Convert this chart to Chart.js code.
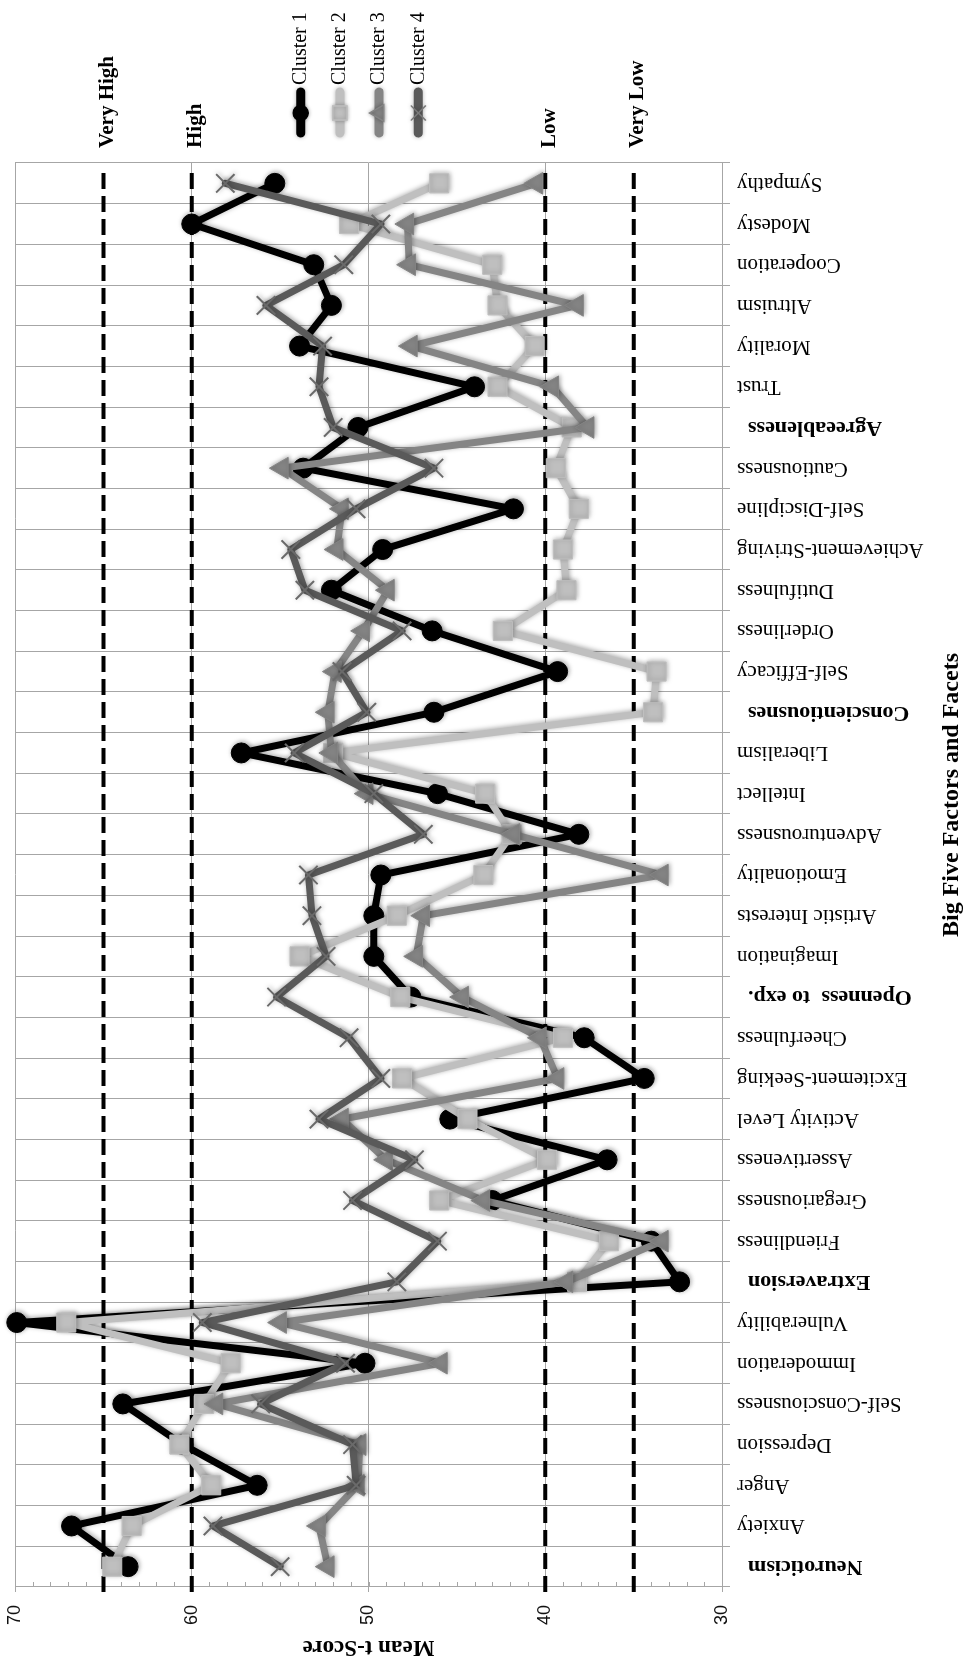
<!DOCTYPE html>
<html>
<head>
<meta charset="utf-8">
<script src="https://cdn.jsdelivr.net/npm/chart.js@4.4.1/dist/chart.umd.min.js"></script>
<style>
html,body{margin:0;padding:0;background:#fff;overflow:hidden;width:967px;height:1663px;}
#wrap{position:absolute;left:0;top:0;width:1663px;height:967px;transform-origin:0 0;transform:translate(0,1663px) rotate(-90deg);background:#fff;}
canvas{display:block;}
</style>
</head>
<body>
<div id="wrap"><canvas id="c" width="1663" height="967"></canvas></div>
<script>
// ---- data ----
const categories = ['Neuroticism','Anxiety','Anger','Depression','Self-Consciousness','Immoderation','Vulnerability',
  'Extraversion','Friendliness','Gregariousness','Assertiveness','Activity Level','Excitement-Seeking','Cheerfulness',
  'Openness  to exp.','Imagination','Artistic Interests','Emotionality','Adventurousness','Intellect','Liberalism',
  'Conscientiousnes','Self-Efficacy','Orderliness','Dutifulness','Achievement-Striving','Self-Discipline','Cautiousness',
  'Agreeableness','Trust','Morality','Altruism','Cooperation','Modesty','Sympathy'];
const factorNames = ['Neuroticism','Extraversion','Openness  to exp.','Conscientiousnes','Agreeableness'];
const seriesNames = ['Cluster 1','Cluster 2','Cluster 3','Cluster 4'];
const cluster1 = [63.6,66.8,56.3,60.5,63.9,50.2,69.9, 32.4,34.0,43.0,36.5,45.4,34.4,37.8, 47.6,49.7,49.7,49.3,38.1,46.1,57.2,
  46.3,39.3,46.4,52.1,49.2,41.8,53.7, 50.6,44.0,53.9,52.1,53.1,60.0,55.3];
const cluster2 = [64.5,63.4,58.9,60.7,59.3,57.8,67.1, 38.2,36.4,46.0,39.9,44.4,48.1,39.0, 48.2,53.9,48.4,43.5,41.9,43.4,52.0,
  33.9,33.7,42.4,38.8,39.0,38.1,39.4, 38.5,42.7,40.6,42.7,43.0,51.1,46.0];
const cluster3 = [52.3,52.8,50.6,50.5,58.6,45.9,55.0, 38.8,33.4,43.5,49.0,51.5,39.3,40.3, 44.7,47.3,46.9,33.4,41.8,50.1,52.1,
  52.3,51.9,50.3,48.9,51.8,51.5,54.9, 37.6,39.6,47.6,38.2,47.7,47.8,40.5];
const cluster4 = [55.0,58.8,50.7,50.9,56.1,51.3,59.4, 48.4,46.1,50.9,47.4,52.8,49.3,51.1, 55.2,52.4,53.2,53.4,46.9,49.7,54.2,
  50.1,51.5,48.1,53.6,54.4,50.7,46.3, 52.0,52.8,52.6,55.8,51.4,49.3,58.1];
const valueMin = 30, valueMax = 70, valueStep = 10, minorStep = 1;
const levelValues = [65, 60, 40, 35];
const levelLabels = ['Very High', 'High', 'Low', 'Very Low'];
const xTitle = 'Big Five Factors and Facets';
const yTitle = 'Mean t-Score';

// ---- styles ----
const serif = 'Liberation Serif';
const colors = ['#000000', '#bfbfbf', '#858585', '#5a5a5a'];
const pStyles = ['circle', 'rect', 'triangle', 'crossRot'];
const pRadii = [10, 13.5, 12.5, 13];
const legendRadii = [7.5, 10, 9.5, 10];
const gridColor = '#a6a6a6';
const isFactor = i => factorNames.includes(categories[i]);

const allSeries = [cluster1, cluster2, cluster3, cluster4];

const decor = {
  id: 'decor',
  beforeDatasetsDraw(chart) {
    const {ctx, chartArea: a, scales: {y}} = chart;
    ctx.save();
    ctx.strokeStyle = gridColor; ctx.lineWidth = 1;
    for (let v = valueMin; v <= valueMax; v += minorStep) {
      const py = Math.round(y.getPixelForValue(v)) + 0.5;
      ctx.beginPath(); ctx.moveTo(a.left, py); ctx.lineTo(a.left + 5, py); ctx.stroke();
    }
    ctx.strokeStyle = '#000'; ctx.lineWidth = 4; ctx.setLineDash([16, 7]);
    levelValues.forEach(v => {
      const py = y.getPixelForValue(v);
      ctx.beginPath(); ctx.moveTo(a.left - 5, py); ctx.lineTo(a.right - 5, py); ctx.stroke();
    });
    ctx.restore();
  },
  beforeDatasetDraw(chart) {
    const ctx = chart.ctx;
    ctx.save();
    ctx.shadowColor = 'rgba(0,0,0,0.35)';
    ctx.shadowBlur = 5;
    ctx.shadowOffsetX = 1; ctx.shadowOffsetY = 1;
  },
  afterDatasetDraw(chart) { chart.ctx.restore(); },
  afterDraw(chart) {
    const {ctx, chartArea: a, scales: {y}} = chart;
    ctx.save();
    // level labels
    ctx.fillStyle = '#000';
    ctx.font = 'bold 21px "' + serif + '"';
    ctx.textAlign = 'left'; ctx.textBaseline = 'middle';
    levelValues.forEach((v, i) => {
      ctx.fillText(levelLabels[i], a.right + 15, y.getPixelForValue(v) + 4);
    });
    // legend
    const midY = (a.top + a.bottom) / 2 - 9;
    seriesNames.forEach((name, i) => {
      const ly = midY + (i - 1.5) * 39.2;
      ctx.save();
      ctx.shadowColor = 'rgba(0,0,0,0.3)'; ctx.shadowBlur = 4;
      ctx.strokeStyle = colors[i]; ctx.fillStyle = colors[i];
      ctx.lineWidth = 9; ctx.lineCap = 'round';
      ctx.beginPath(); ctx.moveTo(a.right + 30, ly); ctx.lineTo(a.right + 71, ly); ctx.stroke();
      ctx.lineWidth = 1.5;
      ctx.strokeStyle = i === 3 ? '#7a7a7a' : colors[i];
      Chart.helpers.drawPoint(ctx, {pointStyle: pStyles[i], radius: legendRadii[i], borderWidth: 1.5, rotation: 0}, a.right + 50, ly);
      ctx.restore();
      ctx.fillStyle = '#000';
      ctx.font = '20px "' + serif + '"';
      ctx.textAlign = 'left'; ctx.textBaseline = 'middle';
      ctx.fillText(name, a.right + 78, ly);
    });
    // x axis title
    ctx.font = 'bold 24px "' + serif + '"';
    ctx.textAlign = 'center'; ctx.textBaseline = 'middle';
    ctx.fillText(xTitle, (a.left + a.right) / 2 + 80, chart.height - 15);
    ctx.restore();
  }
};

new Chart(document.getElementById('c'), {
  type: 'line',
  data: {
    labels: categories,
    datasets: allSeries.map((d, i) => ({
      label: seriesNames[i],
      data: d,
      borderColor: colors[i],
      backgroundColor: colors[i],
      borderWidth: 7,
      borderJoinStyle: 'round',
      borderCapStyle: 'round',
      pointStyle: pStyles[i],
      pointRadius: pRadii[i],
      pointBackgroundColor: colors[i],
      pointBorderColor: i === 3 ? '#6a6a6a' : colors[i],
      pointBorderWidth: i === 3 ? 2 : 1,
      tension: 0,
      fill: false,
      clip: false,
      order: 4 - i
    }))
  },
  options: {
    responsive: false,
    animation: false,
    events: [],
    layout: {padding: {top: 13, right: 163, bottom: 0, left: 0}},
    plugins: {legend: {display: false}, tooltip: {enabled: false}},
    scales: {
      x: {
        type: 'category',
        offset: true,
        grid: {offset: true, color: gridColor, lineWidth: 1, tickLength: 8, drawTicks: true},
        border: {color: gridColor, width: 1},
        ticks: {
          autoSkip: false, minRotation: 90, maxRotation: 90, padding: 7, color: '#000',
          font: c => ({family: serif, size: isFactor(c.index) ? 22 : 21, weight: isFactor(c.index) ? 'bold' : 'normal'}),
          callback: (v, i) => isFactor(i) ? categories[i] + '  ' : categories[i]
        },
        afterFit: s => { s.height = 245; s.paddingLeft = 0; s.paddingRight = 0; }
      },
      y: {
        min: valueMin, max: valueMax,
        ticks: {stepSize: valueStep, padding: 13, color: '#111', font: {family: 'Liberation Sans', size: 18}},
        grid: {color: gridColor, lineWidth: 1, tickLength: 5},
        border: {color: gridColor, width: 1},
        title: {display: true, text: yTitle, color: '#000', font: {family: serif, size: 23, weight: 'bold'}, padding: {top: 2, bottom: 0}},
        afterFit: s => { s.width = 76; s.paddingTop = 0; s.paddingBottom = 0; }
      }
    }
  },
  plugins: [decor]
});
</script>
</body>
</html>
